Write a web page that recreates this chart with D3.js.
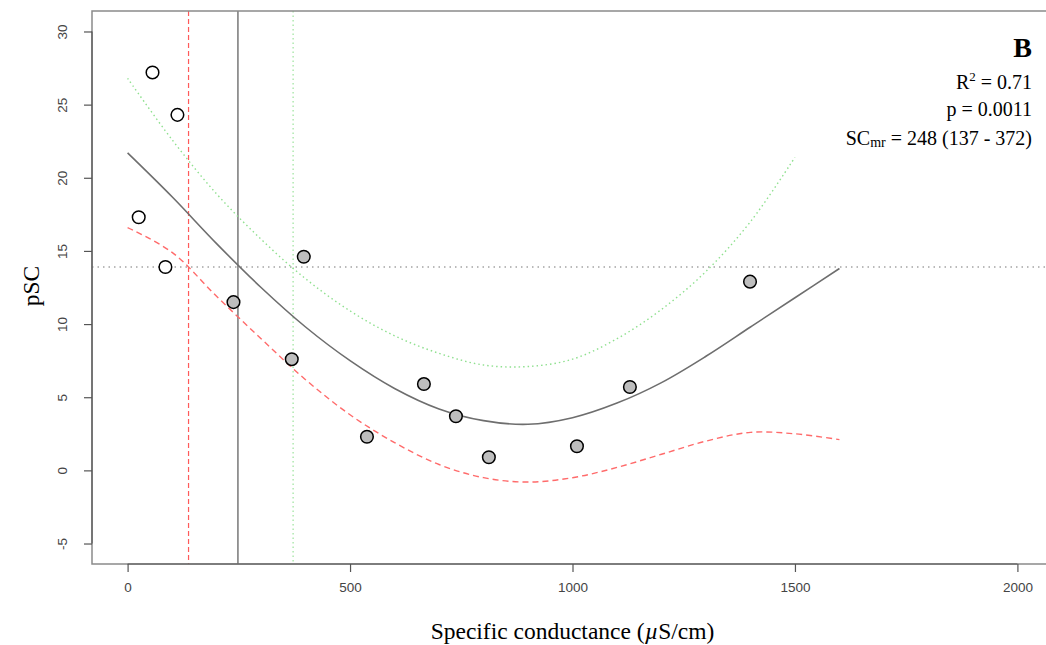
<!DOCTYPE html>
<html>
<head>
<meta charset="utf-8">
<script src="https://cdn.jsdelivr.net/npm/d3@7"></script>
<style>
  body { margin: 0; background: #fff; }
  svg { display: block; }
</style>
</head>
<body>
<div id="chart"><svg></svg></div>
<script>
// observed sites: specific conductance vs pSC
const openX = [56, 112, 25, 85]
const openY = [27.2, 24.3, 17.3, 13.9]
const fillX = [238, 396, 369, 538, 666, 738, 812, 1010, 1129, 1399]
const fillY = [11.5, 14.6, 7.6, 2.3, 5.9, 3.7, 0.9, 1.65, 5.7, 12.9]

// fitted curve and bounds, sampled every 100 uS/cm
const fitX = [0, 100, 200, 300, 400, 500, 600, 700, 800, 900, 1000, 1100, 1200, 1300, 1400, 1500, 1600]
const fitY = [21.7, 18.7, 15.5, 12.5, 9.8, 7.5, 5.6, 4.2, 3.4, 3.15, 3.6, 4.6, 6.0, 7.8, 9.8, 11.8, 13.8]
const upperX = [0, 100, 200, 300, 400, 500, 600, 700, 800, 900, 1000, 1100, 1200, 1300, 1400, 1500]
const upperY = [26.8, 22.6, 18.9, 15.8, 13.1, 10.9, 9.2, 8.0, 7.2, 7.1, 7.6, 9.0, 11.0, 13.6, 17.0, 21.4]
const lowerX = [0, 100, 200, 300, 400, 500, 600, 700, 800, 900, 1000, 1100, 1200, 1300, 1400, 1500, 1600]
const lowerY = [16.6, 14.9, 11.9, 9.0, 6.2, 3.8, 1.9, 0.4, -0.5, -0.8, -0.5, 0.2, 1.1, 2.0, 2.6, 2.5, 2.1]

const scMr = 248
const scLow = 137
const scHigh = 372
const pscMr = 13.9

const xTicks = [0, 500, 1000, 1500, 2000]
const yTicks = [-5, 0, 5, 10, 15, 20, 25, 30]

const width = 1046
const height = 645
const margin = { left: 92, top: 11, right: -7, bottom: 81 }

const svg = d3.select('#chart').select('svg')
  .attr('width', width)
  .attr('height', height)

const xScale = d3.scaleLinear().domain([-80, 2080])
  .range([margin.left, width - margin.right])
const yScale = d3.scaleLinear().domain([-6.4, 31.4])
  .range([height - margin.bottom, margin.top])

const plot = svg.append('g')
svg.append('defs').append('clipPath').attr('id', 'clip')
  .append('rect')
  .attr('x', xScale(-80)).attr('y', yScale(31.4))
  .attr('width', xScale(2080) - xScale(-80))
  .attr('height', yScale(-6.4) - yScale(31.4))
plot.attr('clip-path', 'url(#clip)')

// reference lines
plot.append('line')
  .attr('x1', xScale(-80)).attr('x2', xScale(2080))
  .attr('y1', yScale(pscMr)).attr('y2', yScale(pscMr))
  .attr('stroke', '#777').attr('stroke-width', 1.2)
  .attr('stroke-dasharray', '1.5,4')

plot.append('line')
  .attr('x1', xScale(scLow)).attr('x2', xScale(scLow))
  .attr('y1', yScale(31.4)).attr('y2', yScale(-6.4))
  .attr('stroke', '#ff5a5a').attr('stroke-width', 1.2)
  .attr('stroke-dasharray', '5,3')

plot.append('line')
  .attr('x1', xScale(scMr)).attr('x2', xScale(scMr))
  .attr('y1', yScale(31.4)).attr('y2', yScale(-6.4))
  .attr('stroke', '#777').attr('stroke-width', 1.5)

plot.append('line')
  .attr('x1', xScale(scHigh)).attr('x2', xScale(scHigh))
  .attr('y1', yScale(31.4)).attr('y2', yScale(-6.4))
  .attr('stroke', '#9be39b').attr('stroke-width', 1.2)
  .attr('stroke-dasharray', '1.5,3')

// curves
const line = d3.line()
  .x(d => xScale(d[0]))
  .y(d => yScale(d[1]))
  .curve(d3.curveCatmullRom)

plot.append('path')
  .datum(d3.zip(upperX, upperY))
  .attr('d', line)
  .attr('fill', 'none')
  .attr('stroke', '#8fe08f').attr('stroke-width', 1.4)
  .attr('stroke-dasharray', '1.5,3')

plot.append('path')
  .datum(d3.zip(lowerX, lowerY))
  .attr('d', line)
  .attr('fill', 'none')
  .attr('stroke', '#ff6b6b').attr('stroke-width', 1.4)
  .attr('stroke-dasharray', '6,4')

plot.append('path')
  .datum(d3.zip(fitX, fitY))
  .attr('d', line)
  .attr('fill', 'none')
  .attr('stroke', '#6e6e6e').attr('stroke-width', 1.6)

// points
plot.selectAll('.open')
  .data(d3.zip(openX, openY))
  .join('circle')
  .attr('class', 'open')
  .attr('cx', d => xScale(d[0]))
  .attr('cy', d => yScale(d[1]))
  .attr('r', 6.3)
  .attr('fill', '#fff')
  .attr('stroke', '#000').attr('stroke-width', 1.5)

plot.selectAll('.filled')
  .data(d3.zip(fillX, fillY))
  .join('circle')
  .attr('class', 'filled')
  .attr('cx', d => xScale(d[0]))
  .attr('cy', d => yScale(d[1]))
  .attr('r', 6.3)
  .attr('fill', '#bebebe')
  .attr('stroke', '#000').attr('stroke-width', 1.5)

// box
svg.append('rect')
  .attr('x', xScale(-80)).attr('y', yScale(31.4))
  .attr('width', xScale(2080) - xScale(-80))
  .attr('height', yScale(-6.4) - yScale(31.4))
  .attr('fill', 'none')
  .attr('stroke', '#8a8a8a').attr('stroke-width', 1.5)

// axes
const fmt = d => String(d)
const xAxis = svg.append('g')
  .attr('class', 'x axis')
  .attr('transform', 'translate(0,' + yScale(-6.4) + ')')
  .call(d3.axisBottom(xScale).tickValues(xTicks).tickFormat(fmt).tickSize(8).tickPadding(10))
const yAxis = svg.append('g')
  .attr('class', 'y axis')
  .attr('transform', 'translate(' + xScale(-80) + ',0)')
  .call(d3.axisLeft(yScale).tickValues(yTicks).tickFormat(fmt).tickSize(8).tickPadding(8))

svg.selectAll('.axis .domain').remove()
xAxis.append('line')
  .attr('x1', xScale(0)).attr('x2', xScale(2000))
  .attr('stroke', '#555').attr('stroke-width', 1.2)
yAxis.append('line')
  .attr('y1', yScale(-5)).attr('y2', yScale(30))
  .attr('stroke', '#555').attr('stroke-width', 1.2)
svg.selectAll('.axis .tick line').attr('stroke', '#555').attr('stroke-width', 1.2)
svg.selectAll('.axis text')
  .attr('font-family', 'Liberation Sans, Arial, sans-serif')
  .attr('font-size', 13.5)
  .attr('fill', '#444')
yAxis.selectAll('.tick text')
  .attr('transform', 'rotate(-90)')
  .attr('x', 0).attr('y', -25)
  .attr('text-anchor', 'middle')
  .attr('dy', '0')

// axis titles
const xTitle = svg.append('text')
  .attr('x', (xScale(0) + xScale(2000)) / 2)
  .attr('y', 639)
  .attr('text-anchor', 'middle')
  .attr('font-family', 'Liberation Serif, Times New Roman, serif')
  .attr('font-size', 23.5)
  .attr('fill', '#000')
xTitle.append('tspan').text('Specific conductance (')
xTitle.append('tspan').text('\u00b5').attr('font-style', 'italic')
xTitle.append('tspan').text('S/cm)')

svg.append('text')
  .text('pSC')
  .attr('transform', 'translate(39,' + yScale(12.6) + ') rotate(-90)')
  .attr('text-anchor', 'middle')
  .attr('font-family', 'Liberation Serif, Times New Roman, serif')
  .attr('font-size', 23.5)
  .attr('fill', '#000')

// annotation
const ann = svg.append('g')
  .attr('font-family', 'Liberation Serif, Times New Roman, serif')
  .attr('fill', '#000')
  .attr('text-anchor', 'end')

ann.append('text')
  .text('B')
  .attr('x', 1032).attr('y', 57)
  .attr('font-size', 28).attr('font-weight', 'bold')

const r2 = ann.append('text')
  .attr('x', 1032).attr('y', 89)
  .attr('font-size', 20)
r2.append('tspan').text('R')
r2.append('tspan').text('2').attr('font-size', 13).attr('dy', -8)
r2.append('tspan').text(' = 0.71').attr('dy', 8)

ann.append('text')
  .text('p = 0.0011')
  .attr('x', 1032).attr('y', 116)
  .attr('font-size', 20)

const sc = ann.append('text')
  .attr('x', 1032).attr('y', 145)
  .attr('font-size', 20)
sc.append('tspan').text('SC')
sc.append('tspan').text('mr').attr('font-size', 14).attr('dy', 2)
sc.append('tspan').text(' = ' + scMr + ' (' + scLow + ' - ' + scHigh + ')').attr('dy', -2)
</script>
</body>
</html>
